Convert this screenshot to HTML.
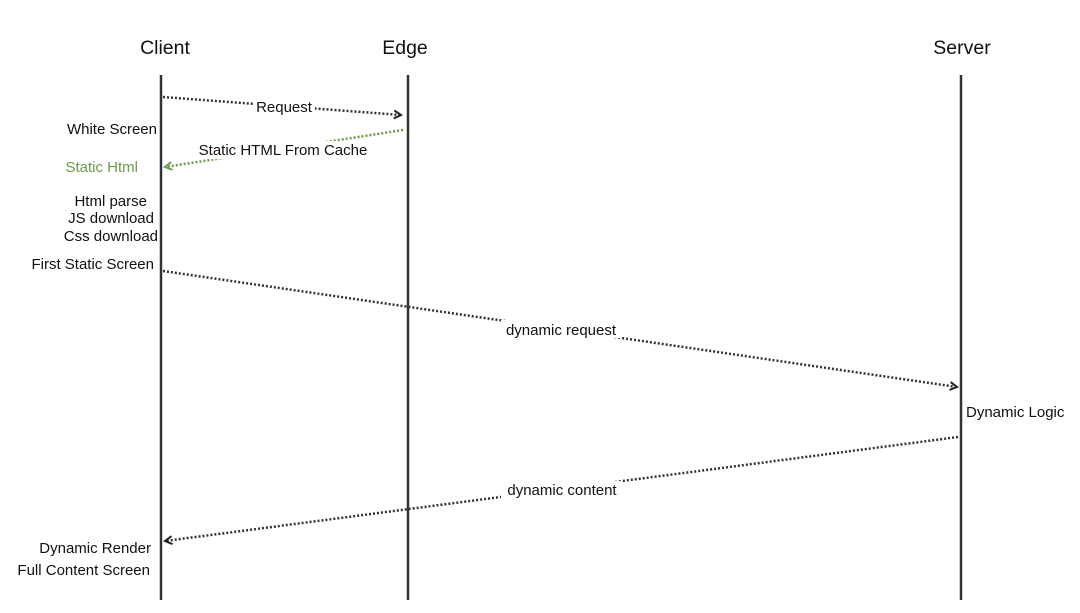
<!DOCTYPE html>
<html><head><meta charset="utf-8"><style>
html,body{margin:0;padding:0;background:#fff}
svg{display:block}
text{font-family:"Liberation Sans",Arial,sans-serif;fill:#111}
</style></head><body>
<svg width="1080" height="613" viewBox="0 0 1080 613" xmlns="http://www.w3.org/2000/svg">
<defs>
<marker id="a" markerWidth="10" markerHeight="10" refX="8" refY="5" orient="auto" markerUnits="userSpaceOnUse"><path d="M1,1 L8,5 L1,9" fill="none" stroke="#222" stroke-width="2"/></marker>
<marker id="g" markerWidth="10" markerHeight="10" refX="8" refY="5" orient="auto" markerUnits="userSpaceOnUse"><path d="M1,1 L8,5 L1,9" fill="none" stroke="#6a9a4a" stroke-width="2"/></marker>
</defs>
<rect width="1080" height="613" fill="#fff"/>
<text x="165" y="54" font-size="19.5" text-anchor="middle">Client</text>
<text x="405" y="54" font-size="19.5" text-anchor="middle">Edge</text>
<text x="962" y="54" font-size="19.5" text-anchor="middle">Server</text>
<g stroke="#333" stroke-width="2.5">
<line x1="161" y1="75" x2="161" y2="600"/>
<line x1="408" y1="75" x2="408" y2="600"/>
<line x1="961" y1="75" x2="961" y2="600"/>
</g>
<g fill="none" stroke-width="2.5" stroke-dasharray="2,2">
<line x1="163" y1="97" x2="401" y2="115" stroke="#333" marker-end="url(#a)"/>
<line x1="403" y1="130" x2="165" y2="167" stroke="#6a9a4a" marker-end="url(#g)"/>
<line x1="163" y1="271" x2="957" y2="387" stroke="#333" marker-end="url(#a)"/>
<line x1="958" y1="437" x2="165" y2="541" stroke="#333" marker-end="url(#a)"/>
</g>
<g fill="#fff">
<rect x="253" y="98" width="62" height="18"/>
<rect x="193" y="141" width="180" height="18"/>
<rect x="501" y="320" width="121" height="18"/>
<rect x="501" y="481" width="121" height="18"/>
</g>
<g font-size="15">
<text x="284" y="112" text-anchor="middle">Request</text>
<text x="283" y="155" text-anchor="middle">Static HTML From Cache</text>
<text x="561" y="335" text-anchor="middle">dynamic request</text>
<text x="562" y="495" text-anchor="middle">dynamic content</text>
<g text-anchor="end">
<text x="157" y="134">White Screen</text>
<text x="138" y="172" style="fill:#6a9a4a">Static Html</text>
<text x="147" y="206">Html parse</text>
<text x="154" y="223">JS download</text>
<text x="158" y="241">Css download</text>
<text x="154" y="269">First Static Screen</text>
<text x="151" y="553">Dynamic Render</text>
<text x="150" y="575">Full Content Screen</text>
</g>
<text x="966" y="417">Dynamic Logic</text>
</g>
</svg>
</body></html>
